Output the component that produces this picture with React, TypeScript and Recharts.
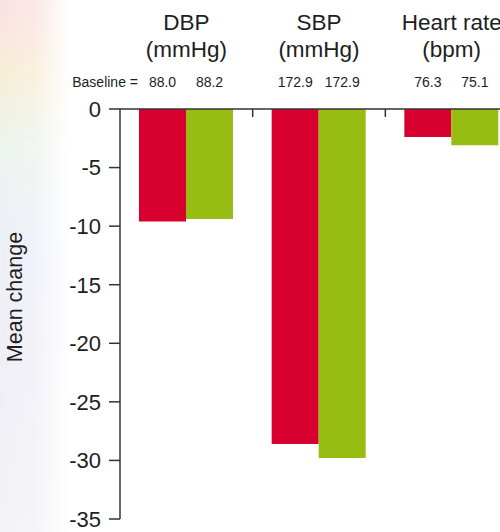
import React from 'react';
import { BarChart, Bar, XAxis, YAxis, LabelList, Label } from 'recharts';

const categories = ['DBP', 'SBP', 'Heart rate'];
const units = ['(mmHg)', '(mmHg)', '(bpm)'];
const redValues = [-9.6, -28.6, -2.4];
const greenValues = [-9.4, -29.8, -3.1];
const redBaseline = ['88.0', '172.9', '76.3'];
const greenBaseline = ['88.2', '172.9', '75.1'];
const yTicks = [0, -5, -10, -15, -20, -25, -30, -35];

const data = categories.map((c, i) => ({
  name: c,
  unit: units[i],
  red: redValues[i],
  green: greenValues[i],
  redBase: redBaseline[i],
  greenBase: greenBaseline[i],
}));

const W = 522;
const H = 532;
const M = { top: 0, right: 4, bottom: 13, left: 20 };
const YW = 100;
const XH = 109;
const band = (W - M.left - M.right - YW) / categories.length;
const RED = '#d7002e';
const GREEN = '#98bd12';
const AX = '#333';
const TXT = '#1e1e1e';

const CatTick = (props: any) => {
  const { x, index, payload } = props;
  const unit = data[index] ? data[index].unit : '';
  return (
    <g>
      <text x={x} y={30} textAnchor="middle" fontSize={22.5} fill={TXT}>{payload.value}</text>
      <text x={x} y={57} textAnchor="middle" fontSize={22.5} fill={TXT}>{unit}</text>
      {index === 0 && (
        <text x={138} y={87} textAnchor="end" fontSize={14} fill={TXT}>Baseline =</text>
      )}
      {index < categories.length - 1 && (
        <line x1={x + band / 2} x2={x + band / 2} y1={XH} y2={XH + 8} stroke={AX} strokeWidth={1.5} />
      )}
    </g>
  );
};

const baseLabel = (props: any) => {
  const { x, width, value } = props;
  return (
    <text x={Number(x) + Number(width) / 2} y={87} textAnchor="middle" fontSize={14} fill={TXT}>{value}</text>
  );
};

const yLabel = (props: any) => {
  const { viewBox } = props;
  const cy = viewBox.y + viewBox.height / 2 - 17;
  return (
    <text x={22} y={cy} transform={`rotate(-90, 22, ${cy})`} textAnchor="middle" fontSize={21.5} fill={TXT}>Mean change</text>
  );
};

export default function App() {
  return (
    <div style={{ position: 'absolute', left: 0, top: 0, width: 500, height: 532, overflow: 'hidden', background: '#fff', fontFamily: '"Liberation Sans", Arial, Helvetica, sans-serif' }}>
      <div style={{ position: 'absolute', left: 0, top: 0, width: 75, height: 532,
        background: 'linear-gradient(to right, rgba(255,255,255,0) 0px, rgba(255,255,255,0.2) 35px, #fff 70px), linear-gradient(180deg, #fbe0e3 0%, #f7eed6 14%, #edf4ec 26%, #ecf0f8 45%, #f0eef7 65%, #f3f3f5 100%)' }} />
      <div style={{ position: 'absolute', left: 0, top: 0 }}>
        <BarChart width={W} height={H} data={data} margin={M} barGap={0} barSize={47}>
          <XAxis
            dataKey="name"
            orientation="top"
            height={XH}
            axisLine={{ stroke: AX, strokeWidth: 1.5 }}
            tickLine={false}
            tickSize={0}
            tickMargin={0}
            tick={<CatTick />}
            interval={0}
          />
          <YAxis
            type="number"
            domain={[-35, 0]}
            ticks={yTicks}
            width={YW}
            axisLine={{ stroke: AX, strokeWidth: 1.5 }}
            tickLine={{ stroke: AX, strokeWidth: 1.5 }}
            tickSize={11}
            tickMargin={8}
            tick={{ fontSize: 22, fill: TXT }}
            allowDataOverflow
          >
            <Label content={yLabel} />
          </YAxis>
          <Bar dataKey="red" fill={RED} isAnimationActive={false}>
            <LabelList dataKey="redBase" content={baseLabel} />
          </Bar>
          <Bar dataKey="green" fill={GREEN} isAnimationActive={false}>
            <LabelList dataKey="greenBase" content={baseLabel} />
          </Bar>
        </BarChart>
      </div>
    </div>
  );
}
